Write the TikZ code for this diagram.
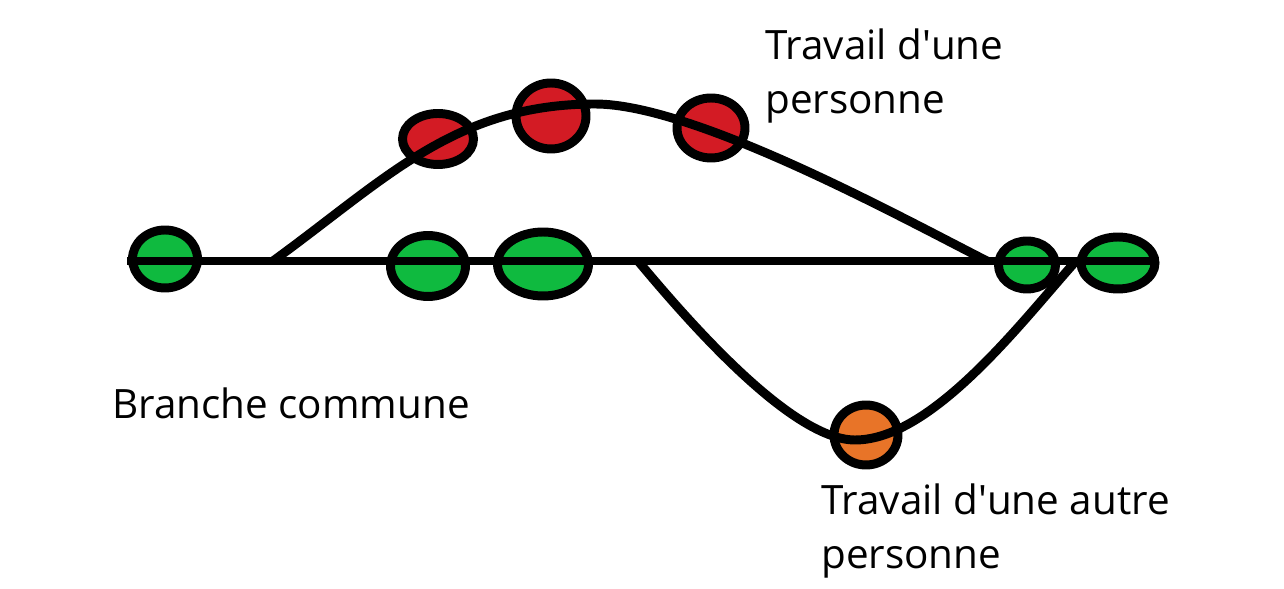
\documentclass[tikz,border=0pt]{standalone}
\usepackage{fontspec}
\setmainfont{Open Sans}
\usetikzlibrary{shapes.geometric}
\definecolor{ink}{HTML}{000000}
\definecolor{leaf}{HTML}{0FBA3F}
\definecolor{berry}{HTML}{D31B24}
\definecolor{amber}{HTML}{E87428}
\tikzset{
  commit/.style={ellipse,draw=ink,line width=5.1pt,inner sep=0pt},
  branch/.style={draw=ink,line width=5.1pt},
  note/.style={align=left,inner sep=0pt,anchor=base west}
}

\begin{document}
\begin{tikzpicture}[x=0.02cm,y=0.02cm,font=\fontsize{23}{31.2}\selectfont]
  \useasboundingbox (0,0) rectangle (1284,588);

  \node[commit,fill=leaf,minimum width=1.30cm,minimum height=1.16cm] (base1) at (165,329) {};
  \node[commit,fill=leaf,minimum width=1.50cm,minimum height=1.22cm] (base2) at (428,322) {};
  \node[commit,fill=leaf,minimum width=1.82cm,minimum height=1.28cm] (base3) at (543,324) {};
  \node[commit,fill=leaf,minimum width=1.14cm,minimum height=0.96cm] (base4) at (1027,323) {};
  \node[commit,fill=leaf,minimum width=1.48cm,minimum height=1.04cm] (base5) at (1118,325) {};

  \node[commit,fill=berry,minimum width=1.42cm,minimum height=1.02cm] (mine1) at (438,449) {};
  \node[commit,fill=berry,minimum width=1.40cm,minimum height=1.32cm] (mine2) at (551,472) {};
  \node[commit,fill=berry,minimum width=1.36cm,minimum height=1.20cm] (mine3) at (711,460) {};

  \node[commit,fill=amber,minimum width=1.28cm,minimum height=1.20cm] (other) at (866,153) {};

  \coordinate (start) at (127,327);
  \coordinate (split) at (273,327);
  \coordinate (crest) at (595,484);
  \coordinate (rejoin) at (987,327);
  \coordinate (split2) at (638,327);
  \coordinate (trough) at (855,148);
  \coordinate (rejoin2) at (1076,327);

  \draw[branch] (start) -- (start -| base5.east);
  \draw[branch] (split) to[out=36,in=180] (crest)
    to[out=0,in=153,looseness=0.6] (rejoin);
  \draw[branch] (split2) to[out=-50,in=180,looseness=0.6] (trough)
    to[out=0,in=228,looseness=0.7] (rejoin2);

  \node[note] (minelabel) at (765,474) {Travail d\textquotesingle une\\personne};
  \node[note] (baselabel) at (112,169) {Branche commune};
  \node[note] (otherlabel) at (821,19) {Travail d\textquotesingle une autre\\personne};
\end{tikzpicture}
\end{document}
